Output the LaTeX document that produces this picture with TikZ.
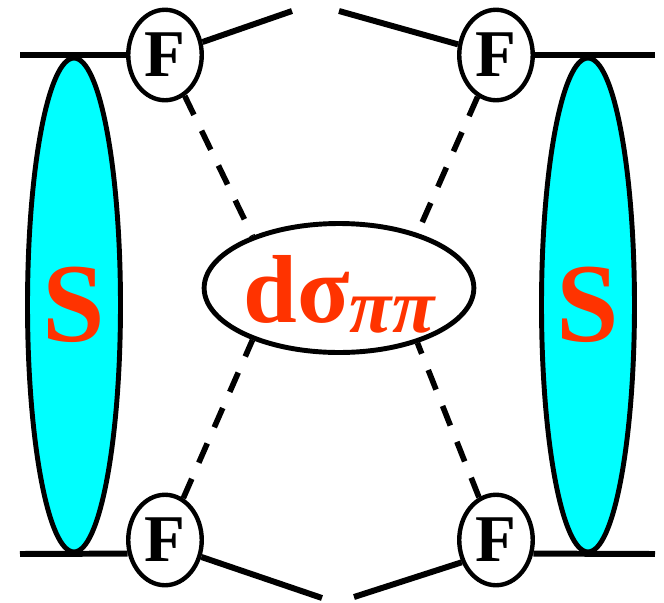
\documentclass[tikz,border=0pt]{standalone}
\usepackage{fontspec}
\setmainfont{Liberation Serif}
\usetikzlibrary{shapes.geometric}
\definecolor{sred}{RGB}{255,51,0}
\definecolor{scyan}{RGB}{0,255,255}

\begin{document}
\begin{tikzpicture}[x=0.02cm,y=-0.02cm,
  blob/.style={ellipse,draw,line width=2.8pt,fill=scyan,inner sep=0pt,minimum width=1.86cm,minimum height=9.88cm,text=sred,font=\fontsize{64}{64}\selectfont\bfseries},
  ff/.style={ellipse,draw,line width=2.5pt,fill=white,inner sep=0pt,minimum width=1.47cm,minimum height=1.81cm,font=\fontsize{38}{38}\selectfont\bfseries},
  leg/.style={line width=3.4pt},
  prop/.style={line width=3.2pt,dash pattern=on 12pt off 10pt}]
  \useasboundingbox (0,0) rectangle (664,603);
  % spektralni funkce po stranach
  \node[blob] (Sl) at (74,305) {S};
  \node[blob] (Sr) at (588,305) {S};
  % vrcholy F a stredni ucinny prurez
  \node[ff] (Ftl) at (165,55) {F};
  \node[ff] (Ftr) at (496,55) {F};
  \node[ff] (Fbl) at (165,540) {F};
  \node[ff] (Fbr) at (496,540) {F};
  \node[ellipse,draw,line width=2.8pt,inner sep=0pt,minimum width=5.38cm,minimum height=2.58cm,
        text=sred,text height=45pt,text depth=5.5pt,font=\fontsize{55}{55}\selectfont\bfseries] (sig) at (339,288)
        {dσ\raisebox{-5.5pt}{\fontsize{44}{44}\selectfont\itshape ππ}};
  \coordinate (l1) at (20,55);
  \coordinate (r1) at (655,55);
  \coordinate (l2) at (20,554);
  \coordinate (r2) at (655,554);
  \coordinate (tl) at (292,11);
  \coordinate (tr) at (339,11);
  \coordinate (bl) at (322,598);
  \coordinate (br) at (354,597);
  \foreach \a/\b in {l1/Ftl,Ftr/r1,Ftl/tl,Ftr/tr,l2/Fbl.200,Fbr.340/r2,Fbl.-25/bl,Fbr.213/br}
    \draw[leg] (\a) -- (\b);
  % carkovane propagatory
  \foreach \f/\a in {Ftl/149,Ftr/35,Fbl/211,Fbr/325}
    \draw[prop] (\f) -- (sig.\a);
\end{tikzpicture}
\end{document}
